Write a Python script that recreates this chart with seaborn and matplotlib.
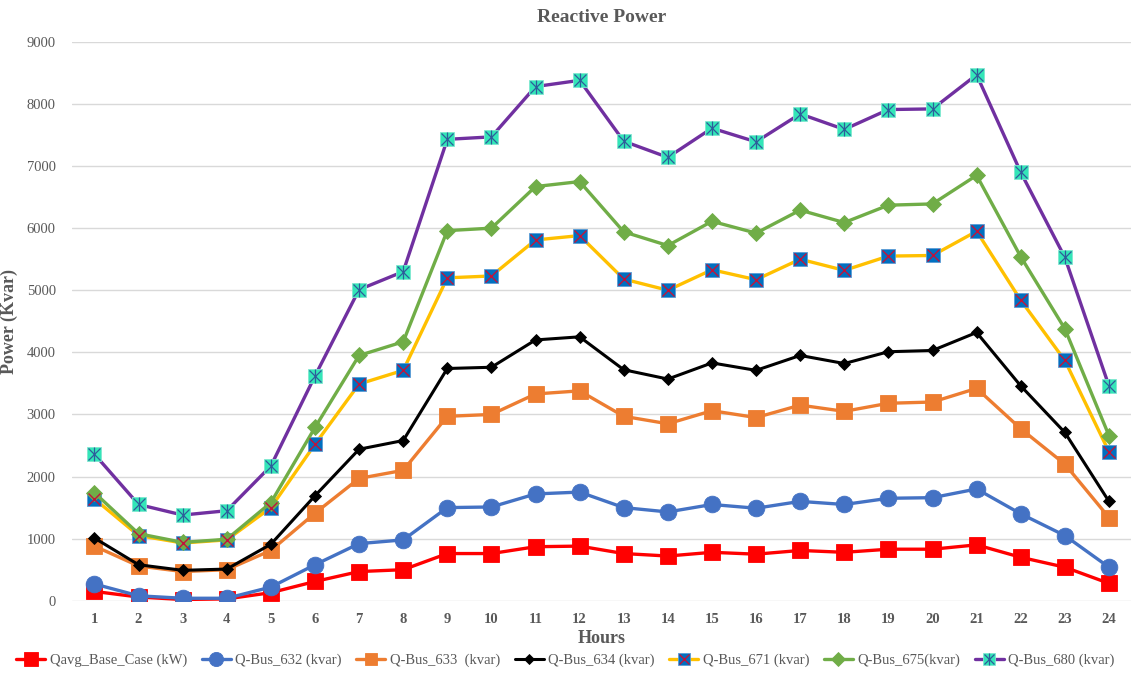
import matplotlib
matplotlib.use("Agg")
import matplotlib.pyplot as plt
from matplotlib.legend_handler import HandlerTuple
from matplotlib.lines import Line2D
import seaborn as sns

hours = list(range(1, 25))

qavg_base = [150, 60, 20, 30, 130, 310, 470, 500, 760, 760, 870, 880,
             760, 720, 780, 750, 810, 780, 830, 830, 900, 700, 540, 280]
q_bus_632 = [270, 80, 40, 40, 220, 580, 920, 980, 1500, 1510, 1720, 1750,
             1500, 1430, 1550, 1490, 1600, 1550, 1650, 1660, 1800, 1400, 1050, 540]
q_bus_633 = [880, 560, 470, 500, 810, 1410, 1970, 2100, 2970, 3000, 3330, 3380,
             2970, 2850, 3060, 2950, 3150, 3050, 3180, 3200, 3420, 2770, 2200, 1340]
q_bus_634 = [1010, 580, 490, 510, 910, 1690, 2440, 2580, 3740, 3760, 4200, 4250,
             3720, 3570, 3830, 3710, 3950, 3820, 4010, 4030, 4320, 3460, 2710, 1600]
q_bus_671 = [1640, 1050, 930, 980, 1500, 2520, 3490, 3710, 5200, 5230, 5810, 5880,
             5180, 5000, 5330, 5170, 5500, 5320, 5550, 5560, 5950, 4840, 3870, 2400]
q_bus_675 = [1740, 1080, 940, 990, 1580, 2790, 3950, 4170, 5960, 6000, 6670, 6750,
             5940, 5720, 6110, 5920, 6290, 6090, 6370, 6390, 6850, 5540, 4380, 2660]
q_bus_680 = [2360, 1550, 1380, 1450, 2170, 3620, 5010, 5300, 7430, 7470, 8280, 8380,
             7400, 7140, 7610, 7390, 7840, 7590, 7910, 7920, 8470, 6900, 5530, 3460]

labels = ["Qavg_Base_Case (kW)", "Q-Bus_632 (kvar)", "Q-Bus_633  (kvar)",
          "Q-Bus_634 (kvar)", "Q-Bus_671 (kvar)", "Q-Bus_675(kvar)", "Q-Bus_680 (kvar)"]

sns.set_theme(style="white")
plt.rcParams["font.family"] = ["Liberation Serif", "DejaVu Serif"]

text_gray = "#595959"
fig = plt.figure(figsize=(11.31, 6.75), dpi=100)
ax = fig.add_axes([0.064, 0.11, 0.936, 0.828])

series = [
    # values, line colour, marker, size, face, edge, line width
    (qavg_base, "#FF0000", "s", 12, "#FF0000", "#FF0000", 2.4),
    (q_bus_632, "#4472C4", "o", 12, "#4472C4", "#4472C4", 2.4),
    (q_bus_633, "#ED7D31", "s", 11, "#ED7D31", "#ED7D31", 2.4),
    (q_bus_634, "#000000", "D", 6, "#000000", "#000000", 2.2),
    (q_bus_671, "#FFC000", "s", 10, "#0070C0", "#5B9BD5", 2.4),
    (q_bus_675, "#70AD47", "D", 8, "#70AD47", "#70AD47", 2.4),
    (q_bus_680, "#7030A0", "s", 10, "#33E6B8", "#7FE8D0", 2.4),
]

handles = []
for (vals, color, mk, ms, fc, ec, lw), lab in zip(series, labels):
    sns.lineplot(x=hours, y=vals, ax=ax, color=color, lw=lw, marker=mk,
                 markersize=ms, markerfacecolor=fc, markeredgecolor=ec,
                 markeredgewidth=0.6, label=None, zorder=3)
    h = Line2D([], [], color=color, lw=lw, marker=mk, markersize=ms * 0.85,
               markerfacecolor=fc, markeredgecolor=ec, markeredgewidth=0.6)
    handles.append(h)

# cross overlay on the 671 markers
ax.plot(hours, q_bus_671, ls="none", marker="x", markersize=8,
        markeredgecolor="#C0143C", markeredgewidth=1.0, zorder=4)
# asterisk overlay on the 680 markers
ax.plot(hours, q_bus_680, ls="none", marker="x", markersize=8,
        markeredgecolor="#2E5C9A", markeredgewidth=0.9, zorder=4)
ax.plot(hours, q_bus_680, ls="none", marker="|", markersize=10,
        markeredgecolor="#2E5C9A", markeredgewidth=0.9, zorder=4)

x671 = Line2D([], [], ls="none", marker="x", markersize=7,
              markeredgecolor="#C0143C", markeredgewidth=1.0)
x680 = Line2D([], [], ls="none", marker="x", markersize=7,
              markeredgecolor="#2E5C9A", markeredgewidth=0.9)
v680 = Line2D([], [], ls="none", marker="|", markersize=8,
              markeredgecolor="#2E5C9A", markeredgewidth=0.9)
leg_handles = handles[:4] + [(handles[4], x671), handles[5], (handles[6], x680, v680)]

ax.set_xlim(0.5, 24.5)
ax.set_ylim(0, 9000)
ax.set_xticks(hours)
ax.set_yticks(range(0, 9001, 1000))
ax.grid(axis="y", color="#D9D9D9", lw=1.0)
ax.grid(axis="x", visible=False)
for s in ax.spines.values():
    s.set_visible(False)
ax.tick_params(axis="both", length=0, colors=text_gray, labelsize=10.5)
for t in ax.get_xticklabels():
    t.set_fontweight("bold")
ax.tick_params(axis="x", pad=9)
ax.tick_params(axis="y", pad=12)

ax.set_title("Reactive Power", fontsize=14, fontweight="bold", color=text_gray, pad=14)
ax.set_xlabel("Hours", fontsize=13, fontweight="bold", color=text_gray, labelpad=3)
ax.set_ylabel("Power (Kvar)", fontsize=13, fontweight="bold", color=text_gray, labelpad=6)

fig.legend(leg_handles, labels, loc="lower center", bbox_to_anchor=(0.5, -0.008),
           ncol=7, frameon=False, fontsize=10.5, handlelength=2.0,
           columnspacing=1.0, handletextpad=0.3,
           handler_map={tuple: HandlerTuple(ndivide=1, pad=0)},
           labelcolor=text_gray)

fig.savefig("out.png", dpi=100)
